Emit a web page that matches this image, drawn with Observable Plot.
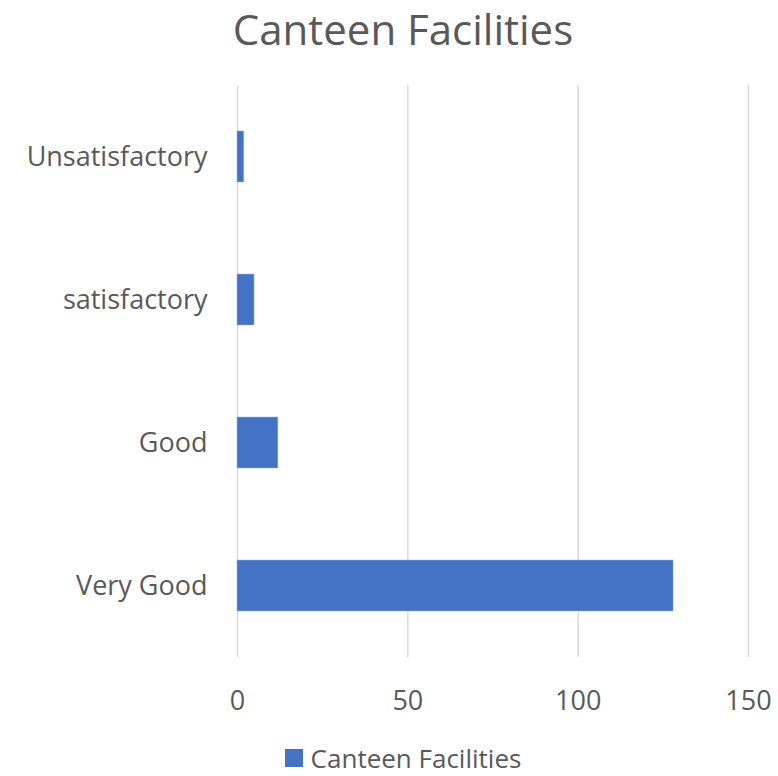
<!DOCTYPE html>
<html>
<head>
<meta charset="utf-8">
<script src="https://cdn.jsdelivr.net/npm/d3@7"></script>
<script src="https://cdn.jsdelivr.net/npm/@observablehq/plot@0.6"></script>
<style>
  html, body { margin: 0; background: #fff; font-family: "Open Sans", sans-serif; color: #595959; overflow: hidden; }
  #title { width: 778px; height: 58px; text-align: center; font-size: 42px; line-height: 58px; padding-left: 28px; box-sizing: border-box; }
  #legend { width: 778px; height: 36px; display: flex; justify-content: center; align-items: center; font-size: 26px; line-height: 36px; padding-left: 28px; box-sizing: border-box; }
  #legend .sw { width: 18px; height: 18px; background: #4472C4; margin-right: 8px; }
</style>
</head>
<body>
<div id="title">Canteen Facilities</div>
<div id="chart"></div>
<div id="legend"><span class="sw"></span><span>Canteen Facilities</span></div>
<script>
const categories = ["Unsatisfactory", "satisfactory", "Good", "Very Good"];
const values = [2, 5, 12, 128];
const xTicks = [0, 50, 100, 150];
const seriesName = "Canteen Facilities";

const data = categories.map((c, i) => ({category: c, value: values[i]}));

const chart = Plot.plot({
  width: 778,
  height: 682,
  marginTop: 27,
  marginBottom: 83,
  marginLeft: 237,
  marginRight: 30,
  style: {fontFamily: "Open Sans, sans-serif", fontSize: "27px", color: "#595959", background: "#fff", display: "block"},
  x: {domain: [0, 150], ticks: xTicks, tickSize: 0, tickPadding: 33, label: null},
  y: {domain: categories, paddingInner: 0.64, paddingOuter: 0.32, tickSize: 0, tickPadding: 30, label: null},
  marks: [
    Plot.ruleX(xTicks, {stroke: "#d9d9d9", strokeWidth: 1.5}),
    Plot.barX(data, {y: "category", x: "value", fill: "#4472C4", stroke: "#9fb8e3", strokeWidth: 0.5})
  ]
});
document.getElementById("chart").appendChild(chart);
</script>
</body>
</html>
